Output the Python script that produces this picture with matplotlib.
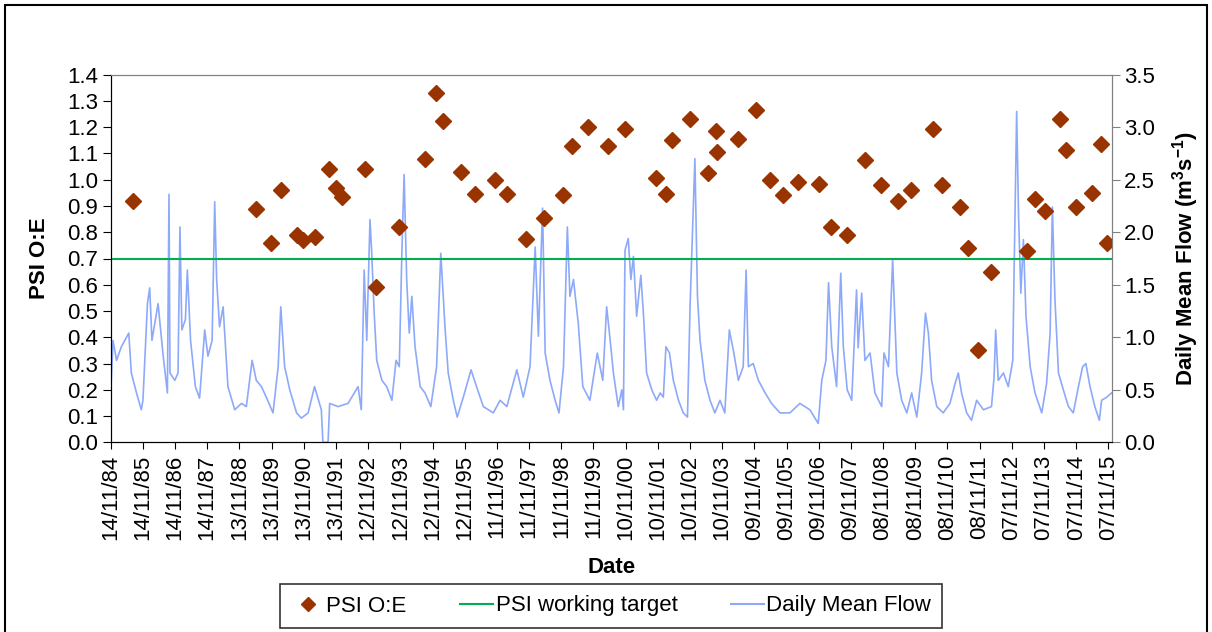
import matplotlib
matplotlib.use('Agg')
import matplotlib.pyplot as plt
import matplotlib.dates as mdates
from matplotlib.patches import Rectangle
from matplotlib.lines import Line2D
from datetime import datetime, timedelta

# fontes parecidas com Arial
plt.rcParams['font.family'] = ['Liberation Sans', 'DejaVu Sans']
plt.rcParams['mathtext.fontset'] = 'custom'
plt.rcParams['mathtext.rm'] = 'Liberation Sans'
plt.rcParams['mathtext.bf'] = 'Liberation Sans:bold'

# PSI O:E (data em ano decimal, valor)
psi_year = [1985.55, 1989.39, 1989.85, 1990.17, 1990.66, 1990.84, 1991.22, 1991.66,
            1991.86, 1992.04, 1992.78, 1993.11, 1993.81, 1994.64, 1994.97, 1995.20,
            1995.74, 1996.19, 1996.79, 1997.18, 1997.78, 1998.33, 1998.91, 1999.19,
            1999.68, 2000.31, 2000.84, 2001.81, 2002.12, 2002.31, 2002.85, 2003.41,
            2003.67, 2003.70, 2004.36, 2004.91, 2005.35, 2005.74, 2006.22, 2006.86,
            2007.25, 2007.73, 2008.28, 2008.80, 2009.31, 2009.72, 2010.41, 2010.69,
            2011.23, 2011.48, 2011.80, 2012.21, 2013.33, 2013.58, 2013.89, 2014.36,
            2014.54, 2014.84, 2015.35, 2015.62, 2015.81]
psi_oe = [0.92, 0.89, 0.76, 0.96, 0.79, 0.77, 0.78, 1.04,
          0.97, 0.935, 1.04, 0.59, 0.82, 1.08, 1.33, 1.225,
          1.03, 0.945, 1.00, 0.945, 0.775, 0.855, 0.94, 1.13,
          1.20, 1.13, 1.195, 1.005, 0.945, 1.15, 1.23, 1.025,
          1.185, 1.105, 1.155, 1.265, 1.00, 0.94, 0.99, 0.985,
          0.82, 0.79, 1.075, 0.98, 0.92, 0.96, 1.195, 0.98,
          0.895, 0.74, 0.35, 0.65, 0.73, 0.925, 0.88, 1.23,
          1.115, 0.895, 0.95, 1.135, 0.76]

# meta de trabalho do PSI
psi_target = 0.7

# vazão média diária (picos e vales)
flow_year = [1984.87, 1984.94, 1985.05, 1985.20, 1985.43, 1985.51, 1985.67, 1985.82,
             1985.87, 1986.01, 1986.08, 1986.15, 1986.26, 1986.34, 1986.49, 1986.63,
             1986.68, 1986.71, 1986.86, 1986.96, 1987.02, 1987.08, 1987.19, 1987.25,
             1987.35, 1987.50, 1987.63, 1987.79, 1987.89, 1988.02, 1988.10, 1988.16,
             1988.25, 1988.36, 1988.51, 1988.72, 1988.93, 1989.08, 1989.26, 1989.39,
             1989.55, 1989.70, 1989.91, 1990.07, 1990.15, 1990.27, 1990.43, 1990.64,
             1990.79, 1991.00, 1991.20, 1991.41, 1991.46, 1991.62, 1991.67, 1991.93,
             1992.24, 1992.55, 1992.65, 1992.74, 1992.82, 1992.92, 1992.97, 1993.05,
             1993.13, 1993.29, 1993.44, 1993.60, 1993.73, 1993.83, 1993.91, 1993.98,
             1994.06, 1994.14, 1994.22, 1994.32, 1994.48, 1994.63, 1994.81, 1994.99,
             1995.12, 1995.25, 1995.35, 1995.51, 1995.63, 1995.82, 1996.06, 1996.23,
             1996.44, 1996.75, 1996.96, 1997.17, 1997.48, 1997.68, 1997.89, 1998.05,
             1998.15, 1998.28, 1998.36, 1998.51, 1998.67, 1998.79, 1998.93, 1999.05,
             1999.13, 1999.24, 1999.39, 1999.53, 1999.75, 1999.98, 2000.15, 2000.27,
             2000.37, 2000.48, 2000.63, 2000.74, 2000.79, 2000.84, 2000.94, 2001.02,
             2001.10, 2001.20, 2001.33, 2001.41, 2001.51, 2001.67, 2001.82, 2001.93,
             2002.03, 2002.11, 2002.22, 2002.34, 2002.50, 2002.65, 2002.78, 2002.86,
             2003.01, 2003.09, 2003.17, 2003.32, 2003.48, 2003.63, 2003.79, 2003.94,
             2004.08, 2004.22, 2004.36, 2004.51, 2004.60, 2004.67, 2004.82, 2004.98,
             2005.19, 2005.39, 2005.65, 2005.96, 2006.27, 2006.58, 2006.84, 2006.95,
             2007.08, 2007.16, 2007.26, 2007.41, 2007.54, 2007.62, 2007.74, 2007.88,
             2008.03, 2008.08, 2008.19, 2008.29, 2008.45, 2008.60, 2008.81, 2008.88,
             2009.02, 2009.15, 2009.28, 2009.43, 2009.59, 2009.74, 2009.90, 2010.05,
             2010.17, 2010.26, 2010.36, 2010.52, 2010.72, 2010.93, 2011.09, 2011.19,
             2011.29, 2011.45, 2011.60, 2011.76, 2011.97, 2012.22, 2012.30, 2012.35,
             2012.43, 2012.59, 2012.74, 2012.88, 2012.92, 2013.00, 2013.06, 2013.13,
             2013.21, 2013.29, 2013.42, 2013.57, 2013.78, 2013.93, 2014.04, 2014.11,
             2014.19, 2014.30, 2014.45, 2014.61, 2014.76, 2014.92, 2015.05, 2015.15,
             2015.28, 2015.43, 2015.57, 2015.64, 2015.80, 2015.95]
flow = [0.47, 0.97, 0.78, 0.91, 1.04, 0.66, 0.47, 0.31,
        0.40, 1.32, 1.47, 0.97, 1.17, 1.32, 0.85, 0.47,
        2.36, 0.66, 0.59, 0.66, 2.05, 1.07, 1.17, 1.64,
        0.97, 0.53, 0.42, 1.07, 0.82, 0.97, 2.29, 1.55,
        1.10, 1.29, 0.53, 0.31, 0.37, 0.34, 0.78, 0.59,
        0.53, 0.43, 0.28, 0.72, 1.29, 0.72, 0.50, 0.28,
        0.23, 0.28, 0.53, 0.31, 0.00, 0.00, 0.37, 0.34,
        0.37, 0.53, 0.31, 1.64, 0.97, 2.12, 1.83, 1.23,
        0.78, 0.59, 0.53, 0.40, 0.78, 0.72, 1.80, 2.55,
        1.55, 1.04, 1.39, 0.91, 0.53, 0.47, 0.34, 0.72,
        1.80, 1.10, 0.66, 0.40, 0.24, 0.43, 0.69, 0.53,
        0.34, 0.28, 0.40, 0.34, 0.69, 0.43, 0.72, 1.86,
        1.01, 2.23, 0.85, 0.59, 0.40, 0.28, 0.72, 2.05,
        1.39, 1.55, 1.13, 0.53, 0.40, 0.85, 0.59, 1.29,
        1.00, 0.66, 0.34, 0.50, 0.31, 1.83, 1.94, 1.55,
        1.77, 1.20, 1.59, 1.23, 0.66, 0.50, 0.40, 0.47,
        0.43, 0.91, 0.85, 0.59, 0.40, 0.28, 0.24, 1.29,
        2.70, 1.39, 0.97, 0.59, 0.40, 0.28, 0.40, 0.28,
        1.07, 0.85, 0.59, 0.72, 1.64, 0.72, 0.75, 0.59,
        0.47, 0.37, 0.28, 0.28, 0.37, 0.31, 0.18, 0.59,
        0.78, 1.52, 0.91, 0.53, 1.61, 0.91, 0.50, 0.40,
        1.45, 0.90, 1.42, 0.78, 0.85, 0.47, 0.34, 0.85,
        0.72, 1.74, 0.66, 0.40, 0.28, 0.47, 0.24, 0.66,
        1.23, 1.04, 0.59, 0.34, 0.28, 0.37, 0.56, 0.66,
        0.47, 0.28, 0.21, 0.40, 0.31, 0.34, 0.62, 1.07,
        0.59, 0.66, 0.53, 0.78, 1.61, 3.15, 2.15, 1.42,
        1.93, 1.20, 0.72, 0.47, 0.28, 0.56, 1.04, 2.24,
        1.36, 0.66, 0.50, 0.34, 0.28, 0.53, 0.72, 0.75,
        0.53, 0.34, 0.21, 0.40, 0.43, 0.47]

# eixo x: marcas a cada 365 dias
start_date = datetime(1984, 11, 14)
n_ticks = 32
tick_step = 365


def to_date(y):
    ''' converte ano decimal em datetime '''
    ano = int(y)
    inicio = datetime(ano, 1, 1)
    dias = (datetime(ano + 1, 1, 1) - inicio).days
    return inicio + timedelta(days=(y - ano) * dias)


psi_dates = [to_date(y) for y in psi_year]
flow_dates = [to_date(y) for y in flow_year]
ticks = [start_date + timedelta(days=tick_step * i) for i in range(n_ticks)]

SIZE = 16
FLOW_COLOR = '#8DA9FA'
W, H = 1212, 632
fig = plt.figure(figsize=(W / 100, H / 100), dpi=100)
ax = fig.add_axes([110.7 / W, 1 - 442.3 / H, (1111.7 - 110.7) / W, (442.3 - 74.7) / H])
ax2 = ax.twinx()

# vazão no eixo secundário, desenhada atrás
ax2.plot(flow_dates, flow, color=FLOW_COLOR, linewidth=1.2)
ax2.set_ylim(0, 3.5)
ax2.set_yticks([0.5 * i for i in range(8)])
ax2.set_yticklabels(['%.1f' % (0.5 * i) for i in range(8)])
ax2.set_ylabel(r'Daily Mean Flow (m$^{\mathbf{3}}$s$^{\mathbf{-1}}$)', fontsize=SIZE,
               fontweight='bold', labelpad=11)

ax.set_zorder(ax2.get_zorder() + 1)
ax.patch.set_visible(False)

ax.axhline(psi_target, color='#00B050', linewidth=1.5)
ax.plot(psi_dates, psi_oe, linestyle='none', marker='D', markersize=8.5,
        color='#993300', markeredgecolor='#993300')

ax.set_ylim(0, 1.4)
ax.set_yticks([0.1 * i for i in range(15)])
ax.set_yticklabels(['%.1f' % (0.1 * i) for i in range(15)])
ax.set_xlim(start_date, start_date + timedelta(days=11353))
ax.set_xticks(ticks)
ax.xaxis.set_major_formatter(mdates.DateFormatter('%d/%m/%y'))
ax.tick_params(axis='x', labelrotation=90, labelsize=SIZE, length=5, pad=4)
ax.tick_params(axis='y', labelsize=SIZE, length=6, pad=3)
ax2.tick_params(axis='y', labelsize=SIZE, length=6, pad=3, color='#808080')
ax.set_ylabel('PSI O:E', fontsize=SIZE, fontweight='bold', labelpad=12)
ax.set_xlabel('Date', fontsize=SIZE, fontweight='bold', labelpad=12)

for a in (ax, ax2):
    a.spines['top'].set_color('#808080')
    a.spines['right'].set_color('#808080')
    a.spines['left'].set_color('black')
    a.spines['bottom'].set_color('black')

# legenda
handles = [Line2D([], [], linestyle='none', marker='D', markersize=7, color='#993300'),
           Line2D([], [], color='#00B050', linewidth=1.5),
           Line2D([], [], color=FLOW_COLOR, linewidth=1.5)]
labels = ['PSI O:E', 'PSI working target', 'Daily Mean Flow']
leg = fig.legend(handles, labels, loc='center', bbox_to_anchor=(611 / W, 1 - 606 / H),
                 ncol=3, fontsize=SIZE, frameon=True, fancybox=False, handlelength=1.5,
                 handletextpad=0.1, columnspacing=2.4, borderpad=0.5,
                 borderaxespad=0)
leg.get_frame().set_edgecolor('black')
leg.get_frame().set_linewidth(1.2)

# moldura externa
fig.patches.append(Rectangle((5 / W, -0.05), (1207 - 5) / W, 1.05 - 5 / H,
                             transform=fig.transFigure, fill=False,
                             edgecolor='black', linewidth=1.5))

fig.savefig('out.png', dpi=100)
